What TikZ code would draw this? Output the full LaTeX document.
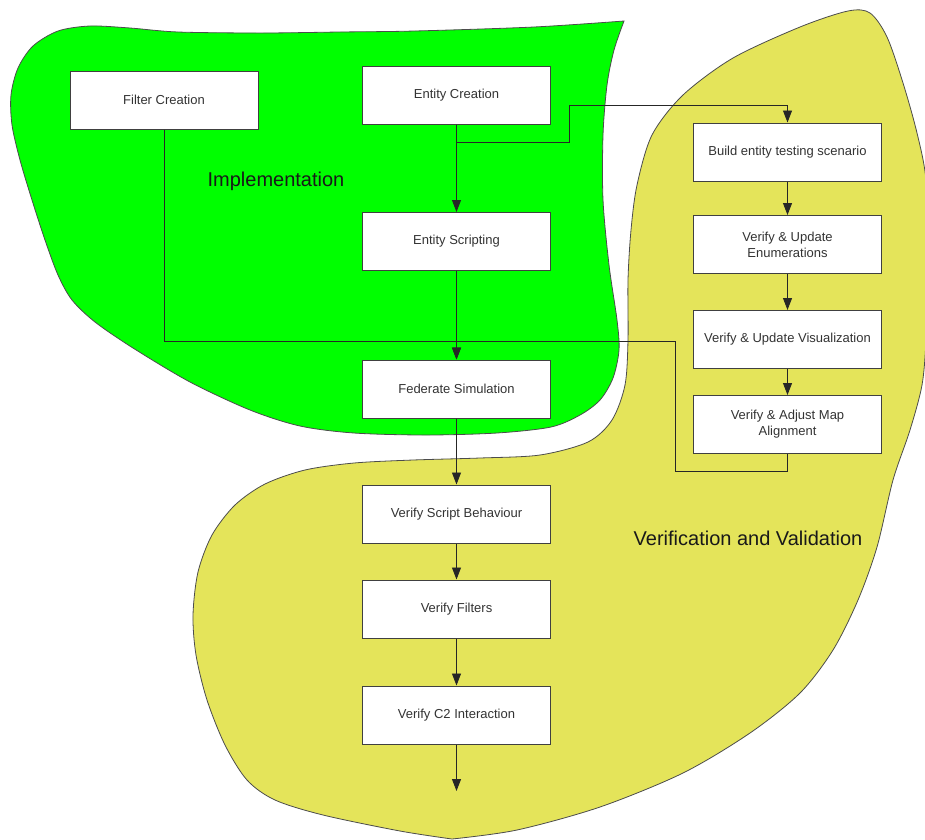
\documentclass[tikz,border=0pt]{standalone}
\usepackage{fontspec}
\setmainfont{Liberation Sans}
\usetikzlibrary{arrows.meta}
\definecolor{implgreen}{RGB}{0,255,0}
\definecolor{vvyellow}{RGB}{228,228,90}
\tikzset{
  region/.style={draw=black!70, line width=0.8pt},
  stepbox/.style={draw=black!75, fill=white, line width=1pt, minimum width=188pt,
    minimum height=58pt, inner sep=0pt, align=center, text=black!80,
    font=\fontsize{13}{16}\selectfont},
  link/.style={draw=black!85, line width=0.9pt},
  flow/.style={link, -{Triangle[length=12pt,width=9pt]}},
  areatitle/.style={font=\fontsize{20}{24}\selectfont, text=black!90}
}
\begin{document}
\begin{tikzpicture}[x=1pt,y=-1pt]
\useasboundingbox (0,0) rectangle (925,839);

% Implementation area
\draw[region, fill=implgreen] (624,21) -- plot[smooth, tension=0.5] coordinates {
  (624,21) (614,50) (607,85) (603,135) (603,200) (609,265) (617,320) (619,350)
  (613,378) (600,400) (580,415) (551,427) (497,433) (426,435) (354,433) (300,426)
  (250,410) (190,382) (133,348) (95,322) (72,300) (58,275) (45,240) (32,200)
  (20,160) (12,125) (11,95) (18,68) (33,46) (58,31) (90,26) (130,28) (178,32)
  (261,33) (340,32) (415,31) (534,27) (624,21)} -- cycle;

% Verification and validation area
\draw[region, fill=vvyellow] (452,839) -- plot[smooth, tension=0.5] coordinates {
  (452,839) (400,831) (323,815) (275,800) (247,780) (225,745) (207,700) (196,655)
  (193,615) (198,572) (212,535) (235,505) (265,484) (305,470) (354,463) (413,460)
  (480,458) (540,455) (588,442) (612,420) (625,385) (628,340) (628,280) (631,230)
  (637,185) (652,135) (683,95) (733,58) (800,27) (848,11) (870,13) (887,37)
  (903,83) (917,133) (926,180) (929,260) (926,340) (922,385) (910,430) (893,480)
  (877,547) (858,600) (833,650) (800,693) (750,733) (683,773) (600,807) (517,830)
  (452,839)} -- cycle;

\node[areatitle] (impl) at (276,181) {Implementation};
\node[areatitle] (vv) at (748,538) {Verification and Validation};

% Process steps
\node[stepbox] (filt) at (164,100) {Filter Creation};
\node[stepbox] (ecre) at (456.5,95) {Entity Creation};
\node[stepbox] (escr) at (456.5,241.5) {Entity Scripting};
\node[stepbox] (fed)  at (456.5,389) {Federate Simulation};
\node[stepbox] (vsb)  at (456.5,514) {Verify Script Behaviour};
\node[stepbox] (vf)   at (456.5,609) {Verify Filters};
\node[stepbox] (vc2)  at (456.5,715) {Verify C2 Interaction};
\node[stepbox] (bets) at (787.5,152) {Build entity testing scenario};
\node[stepbox] (vue)  at (787.5,244.5) {Verify \& Update\\Enumerations};
\node[stepbox] (vuv)  at (787.5,339.5) {Verify \& Update Visualization};
\node[stepbox] (vam)  at (787.5,424.5) {Verify \& Adjust Map\\Alignment};

% Routing points
\coordinate (j1) at (456.5,142);
\coordinate (s2) at (569,105);
\coordinate (j2) at (456.5,341);
\coordinate (k1) at (675,471);
\coordinate (out) at (456.5,791);

% Connectors
\draw[flow] (ecre.south) -- (escr.north);
\draw[flow] (ecre.south) -- (j1) -| (s2) -| (bets.north);
\draw[flow] (escr.south) -- (fed.north);
\draw[flow] (filt.south) |- (j2) -- (fed.north);
\draw[link] (vam.south) |- (k1) |- (j2);
\draw[flow] (fed.south) -- (vsb.north);
\draw[flow] (vsb.south) -- (vf.north);
\draw[flow] (vf.south) -- (vc2.north);
\draw[flow] (vc2.south) -- (out);
\draw[flow] (bets.south) -- (vue.north);
\draw[flow] (vue.south) -- (vuv.north);
\draw[flow] (vuv.south) -- (vam.north);
\end{tikzpicture}
\end{document}
